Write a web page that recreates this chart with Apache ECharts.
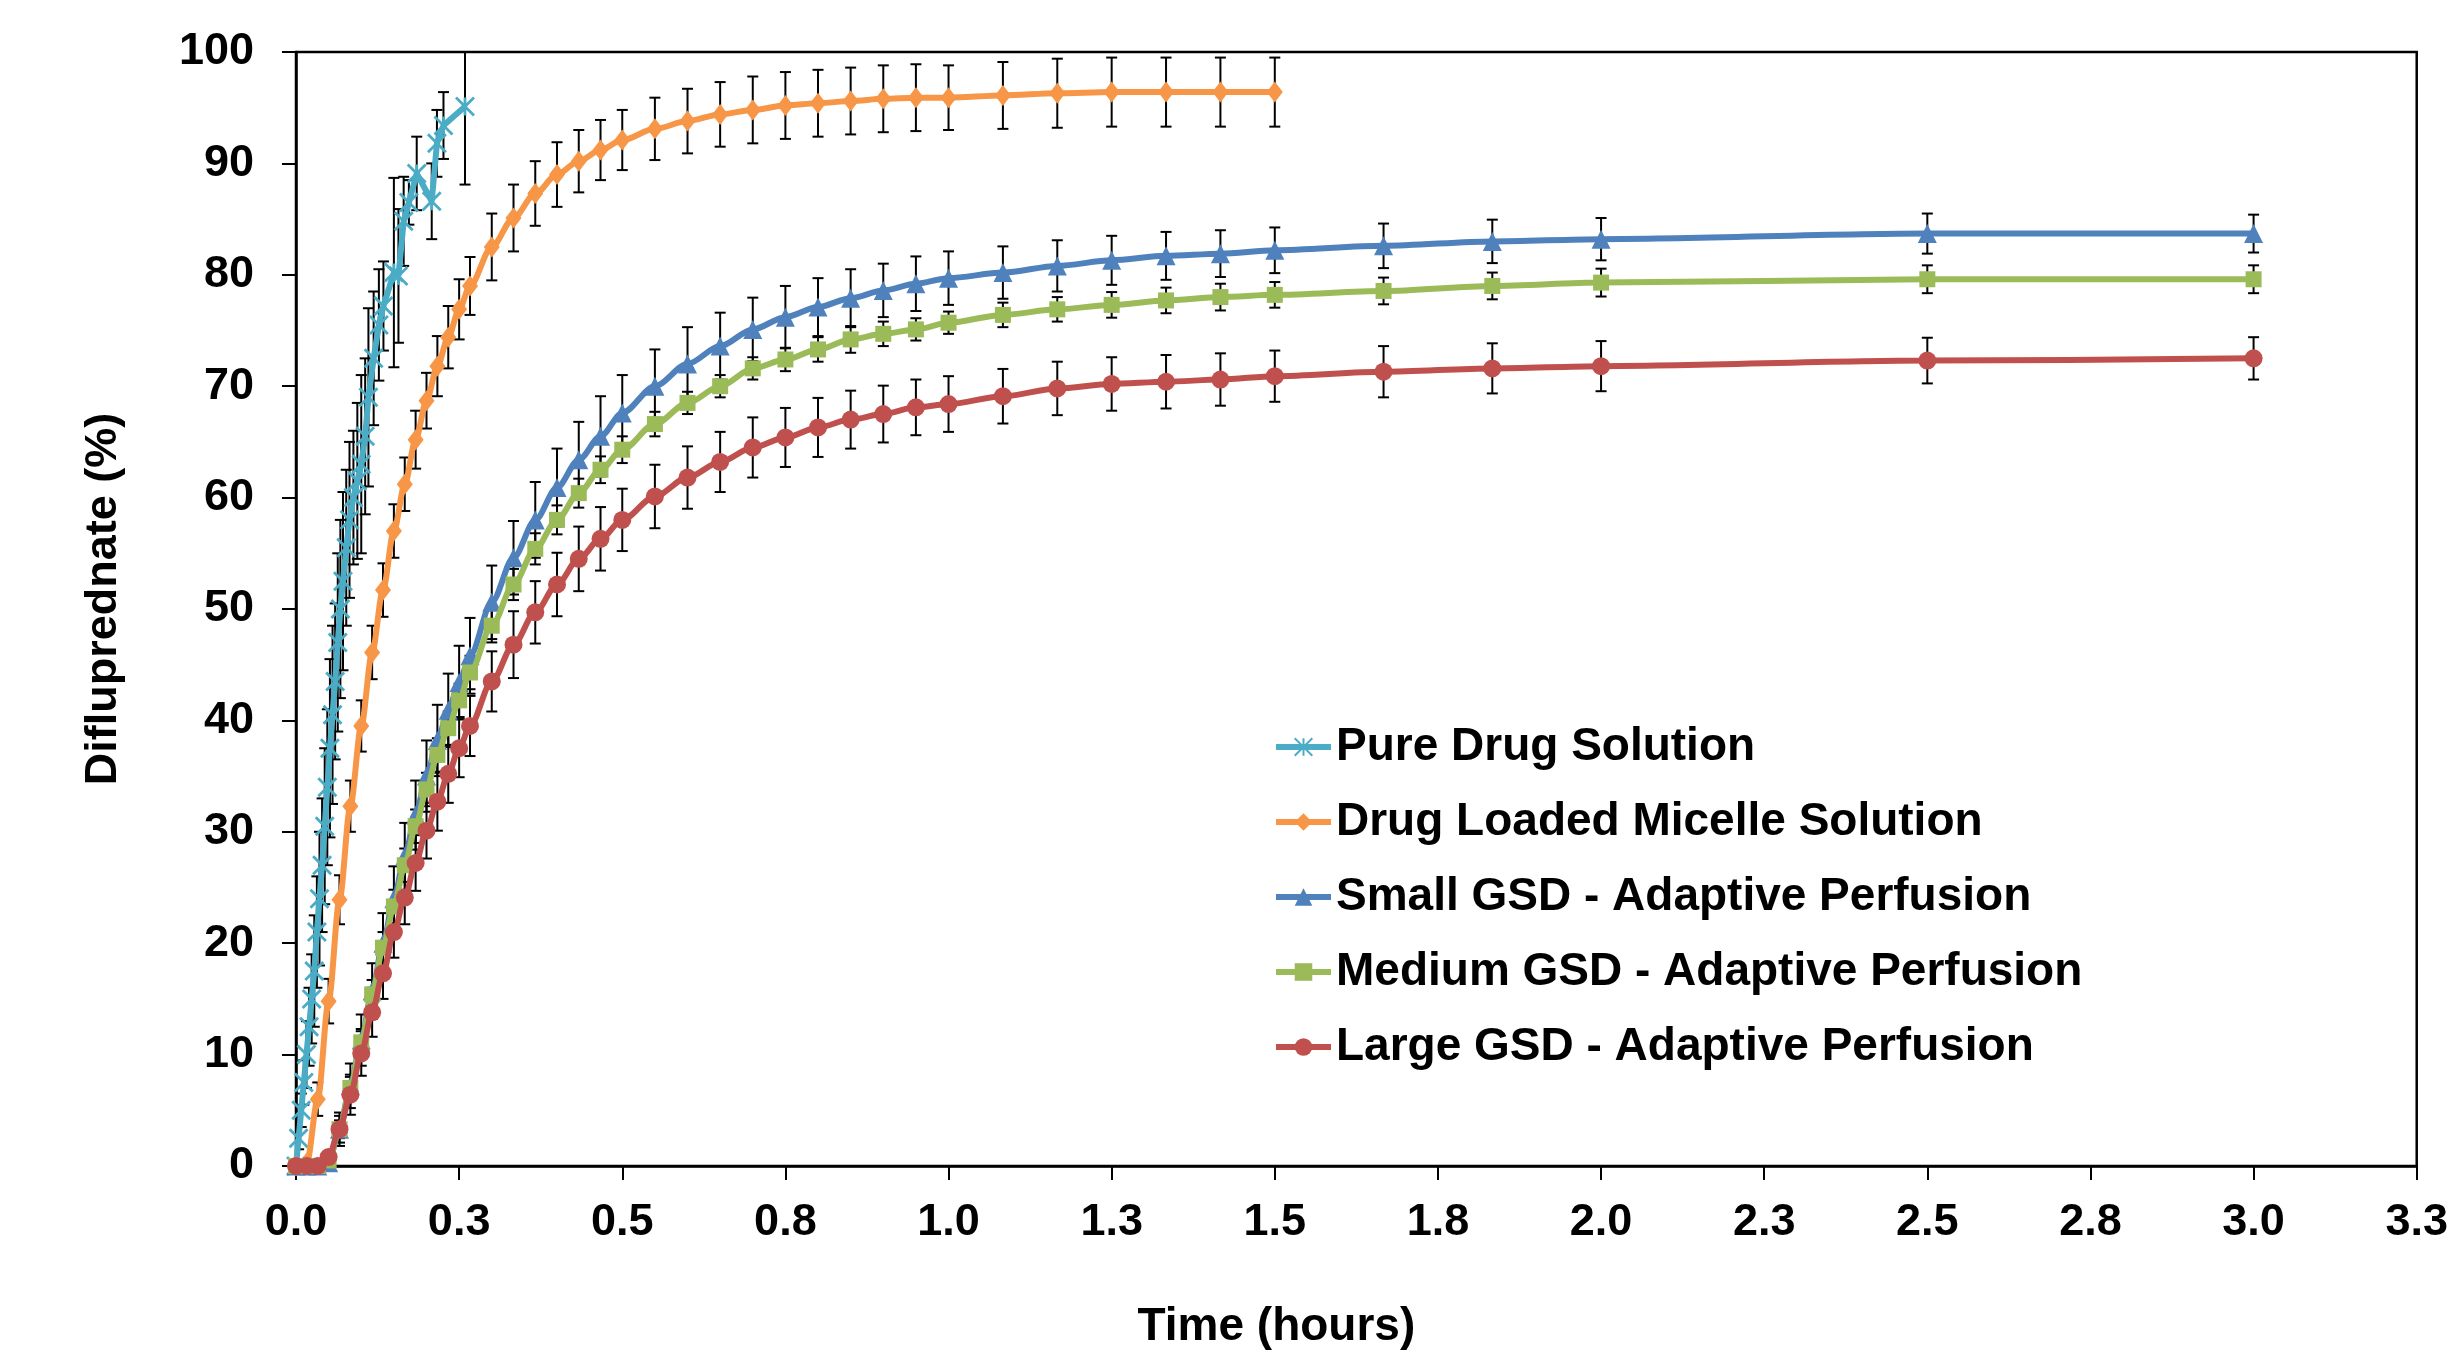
<!DOCTYPE html>
<html>
<head>
<meta charset="utf-8">
<script src="https://cdn.jsdelivr.net/npm/echarts@6/dist/echarts.min.js"></script>
<style>
html,body{margin:0;padding:0;background:#fff;overflow:hidden}
#chart{width:2451px;height:1355px}
</style>
</head>
<body>
<div id="chart"></div>
<script>
// ---------- DATA ----------
const seriesNames = [
  'Pure Drug Solution',
  'Drug Loaded Micelle Solution',
  'Small GSD - Adaptive Perfusion',
  'Medium GSD - Adaptive Perfusion',
  'Large GSD - Adaptive Perfusion'
];

// Pure drug solution: sampling times (hours), % released, error (±)
const pureTimeH = [0, 0.004, 0.008, 0.012, 0.016, 0.020, 0.024, 0.028, 0.032, 0.036, 0.040, 0.044, 0.048, 0.052, 0.056, 0.060, 0.064, 0.068, 0.072, 0.077, 0.082, 0.088, 0.094, 0.100, 0.106, 0.111, 0.119, 0.127, 0.134, 0.150, 0.157, 0.165, 0.173, 0.185, 0.208, 0.216, 0.226, 0.259];
const pureValue = [0, 2.5, 5, 7.5, 10, 12.5, 15, 17.5, 21, 24, 27, 30.5, 34, 37.5, 40.5, 43.5, 47, 50, 52.5, 55.5, 58, 60, 61.5, 63, 65.5, 69, 72.5, 75.5, 77.2, 80.2, 79.9, 84.8, 86.5, 89.1, 86.6, 91.8, 93.4, 95.1];
const pureError = [0, 1, 1.5, 2, 3, 3.5, 4, 5, 5, 6, 6, 7, 7, 8, 8, 7, 8, 8, 8, 7, 7, 6, 7, 8, 7, 8, 6, 5, 4, 8.5, 6, 4, 2, 3.3, 3.4, 3, 3, 7];

// Sampling times (minutes) for the micelle and GSD experiments
const sampleMinutes = [0,1,2,3,4,5,6,7,8,9,10,11,12,13,14,15,16,18,20,22,24,26,28,30,33,36,39,42,45,48,51,54,57,60,65,70,75,80,85,90,100,110,120,150,180];

const micelleValue = [0,0.3,6.0,14.8,23.9,32.3,39.5,46.1,51.7,57.0,61.2,65.2,68.7,71.8,74.4,76.9,79.0,
  82.5,85.1,87.3,89.0,90.2,91.2,92.1,
  93.1,93.8,94.4,94.8,95.2,95.4,95.6,95.8,95.9,95.9,
  96.1,96.3,96.4,96.4,96.4,96.4];
const micelleError = [0,0.3,1.5,2.0,2.2,2.3,2.3,2.4,2.4,2.4,2.4,2.6,2.5,2.7,2.8,2.7,2.6,
  3.0,3.0,2.9,2.9,2.8,2.7,2.7,
  2.8,2.9,2.9,3.0,3.0,3.0,3.0,3.0,3.0,2.9,
  3.0,3.1,3.1,3.1,3.1,3.1];

const smallValue = [0,0,0,0.3,3.3,7.2,11.3,15.7,20.0,24.0,27.8,31.5,35.0,38.2,40.9,43.4,45.8,
  50.6,54.6,58.0,60.9,63.4,65.5,67.6,
  70.0,72.0,73.6,75.1,76.2,77.1,77.9,78.6,79.2,79.7,
  80.2,80.8,81.3,81.7,81.9,82.2,
  82.6,83.0,83.2,83.7,83.7];
const smallError = [0,0,0,0.5,1.5,2.0,2.3,2.5,2.7,2.9,3.0,3.1,3.2,3.2,3.3,3.3,3.4,
  3.3,3.3,3.4,3.5,3.4,3.6,3.4,
  3.3,3.3,3.0,2.85,2.8,2.6,2.6,2.4,2.45,2.4,
  2.35,2.3,2.2,2.15,2.1,2.05,
  2.0,1.95,1.9,1.8,1.7];

const mediumValue = [0,0,0,0.5,3.3,7.0,11.1,15.4,19.6,23.3,27.0,30.5,33.8,36.9,39.3,41.8,44.3,
  48.5,52.2,55.4,58.0,60.4,62.5,64.3,
  66.6,68.5,70.0,71.6,72.4,73.3,74.2,74.7,75.1,75.7,
  76.4,76.9,77.3,77.7,78.0,78.2,
  78.55,79.0,79.3,79.6,79.6];
const mediumError = [0,0,0,0.3,0.8,1.0,1.2,1.3,1.4,1.5,1.5,1.5,1.5,1.5,1.5,1.5,1.5,
  1.5,1.4,1.4,1.3,1.3,1.2,1.2,
  1.1,1.0,1.0,1.0,1.05,1.1,1.2,1.1,1.0,1.0,
  1.1,1.1,1.15,1.15,1.2,1.15,
  1.2,1.2,1.25,1.25,1.25];

const largeValue = [0,0,0,0.8,3.3,6.4,10.1,13.8,17.3,21.0,24.1,27.2,30.1,32.7,35.2,37.5,39.5,
  43.5,46.8,49.7,52.2,54.5,56.3,58.0,
  60.1,61.8,63.2,64.5,65.4,66.3,67.0,67.5,68.1,68.4,
  69.1,69.8,70.2,70.4,70.6,70.9,
  71.3,71.6,71.8,72.3,72.5];
const largeError = [0,0,0,0.5,1.2,1.8,2.0,2.2,2.3,2.3,2.4,2.5,2.5,2.6,2.6,2.6,2.7,
  2.7,3.0,2.8,2.85,2.9,2.85,2.8,
  2.85,2.8,2.7,2.7,2.65,2.65,2.6,2.55,2.5,2.5,
  2.45,2.4,2.4,2.4,2.35,2.3,
  2.3,2.25,2.25,2.05,1.9];

// ---------- BUILD ----------
const FONT = '"Liberation Sans", Arial, Helvetica, sans-serif';
const colors = ['#4BACC6', '#F79646', '#4F81BD', '#9BBB59', '#C0504D'];

function pairsFromHours(times, vals) { return vals.map((v, i) => [times[i], v]); }
function pairsFromMinutes(mins, vals) { return vals.map((v, i) => [mins[i] / 60, v]); }
function errFromHours(times, vals, errs) { return vals.map((v, i) => [times[i], v - errs[i], v + errs[i], errs[i]]); }
function errFromMinutes(mins, vals, errs) { return vals.map((v, i) => [mins[i] / 60, v - errs[i], v + errs[i], errs[i]]); }

const lineData = [
  pairsFromHours(pureTimeH, pureValue),
  pairsFromMinutes(sampleMinutes, micelleValue),
  pairsFromMinutes(sampleMinutes, smallValue),
  pairsFromMinutes(sampleMinutes, mediumValue),
  pairsFromMinutes(sampleMinutes, largeValue)
];
const errData = [
  errFromHours(pureTimeH, pureValue, pureError),
  errFromMinutes(sampleMinutes, micelleValue, micelleError),
  errFromMinutes(sampleMinutes, smallValue, smallError),
  errFromMinutes(sampleMinutes, mediumValue, mediumError),
  errFromMinutes(sampleMinutes, largeValue, largeError)
];

const symbols = [
  'path://M0,0L10,10M10,0L0,10M5,0L5,10',
  'diamond', 'triangle', 'rect', 'circle'
];
const symbolSizes = [18, [16, 21], 19, 16, 18];

function renderErr(params, api) {
  if (api.value(3) <= 0) return null;
  const x = api.value(0);
  const pHi = api.coord([x, api.value(2)]);
  const pLo = api.coord([x, api.value(1)]);
  const hw = 5.5;
  const st = { stroke: '#000', lineWidth: 2 };
  return {
    type: 'group',
    children: [
      { type: 'line', shape: { x1: pHi[0], y1: pHi[1], x2: pLo[0], y2: pLo[1] }, style: st },
      { type: 'line', shape: { x1: pHi[0] - hw, y1: pHi[1], x2: pHi[0] + hw, y2: pHi[1] }, style: st },
      { type: 'line', shape: { x1: pLo[0] - hw, y1: pLo[1], x2: pLo[0] + hw, y2: pLo[1] }, style: st }
    ]
  };
}

const series = [];
seriesNames.forEach((name, i) => {
  series.push({
    name: name + ' error',
    type: 'custom',
    renderItem: renderErr,
    data: errData[i],
    clip: true,
    z: 2,
    silent: true,
    encode: { x: 0, y: [1, 2] }
  });
});
seriesNames.forEach((name, i) => {
  series.push({
    name: name,
    type: 'line',
    data: lineData[i],
    smooth: i === 0 ? false : 0.3,
    smoothMonotone: 'x',
    symbol: symbols[i],
    symbolSize: symbolSizes[i],
    showAllSymbol: true,
    clip: true,
    z: 3 + i,
    lineStyle: { color: colors[i], width: 6 },
    itemStyle: i === 0
      ? { color: colors[i], borderColor: colors[i], borderWidth: 2.8 }
      : { color: colors[i], borderWidth: 0 }
  });
});

const chart = echarts.init(document.getElementById('chart'), null, { renderer: 'canvas' });
chart.setOption({
  backgroundColor: '#ffffff',
  animation: false,
  grid: {
    left: 296, right: 29, top: 52, bottom: 189,
    show: true, borderColor: '#000', borderWidth: 2.5,
    containLabel: false
  },
  legend: {
    data: seriesNames,
    orient: 'vertical',
    left: 1268,
    top: 719,
    itemWidth: 55,
    itemHeight: 22,
    itemGap: 29,
    lineStyle: { width: 6 },
    textStyle: { fontFamily: FONT, fontSize: 46, fontWeight: 'bold', color: '#000', lineHeight: 46 },
    selectedMode: false
  },
  xAxis: {
    type: 'value',
    min: 0, max: 3.25, interval: 0.25,
    name: 'Time (hours)',
    nameLocation: 'middle',
    nameGap: 138,
    nameTextStyle: { fontFamily: FONT, fontSize: 46, fontWeight: 'bold', color: '#000', padding: [0, 160, 0, 0] },
    axisLine: { show: true, onZero: false, lineStyle: { color: '#000', width: 2.5 } },
    axisTick: { show: true, inside: false, length: 14, lineStyle: { color: '#000', width: 2 } },
    axisLabel: {
      margin: 34,
      fontFamily: FONT, fontSize: 45, fontWeight: 'bold', color: '#000',
      formatter: v => Number(v).toFixed(1),
      showMinLabel: true, showMaxLabel: true, hideOverlap: false
    },
    splitLine: { show: false }
  },
  yAxis: {
    type: 'value',
    min: 0, max: 100, interval: 10,
    name: 'Difluprednate (%)',
    nameLocation: 'middle',
    nameGap: 170,
    nameRotate: 90,
    nameTextStyle: { fontFamily: FONT, fontSize: 45, fontWeight: 'bold', color: '#000', padding: [0, 0, 0, 20] },
    axisLine: { show: true, lineStyle: { color: '#000', width: 2.5 } },
    axisTick: { show: true, inside: false, length: 14, lineStyle: { color: '#000', width: 2 } },
    axisLabel: { margin: 42, fontFamily: FONT, fontSize: 45, fontWeight: 'bold', color: '#000' },
    splitLine: { show: false }
  },
  series: series
});
</script>
</body>
</html>
